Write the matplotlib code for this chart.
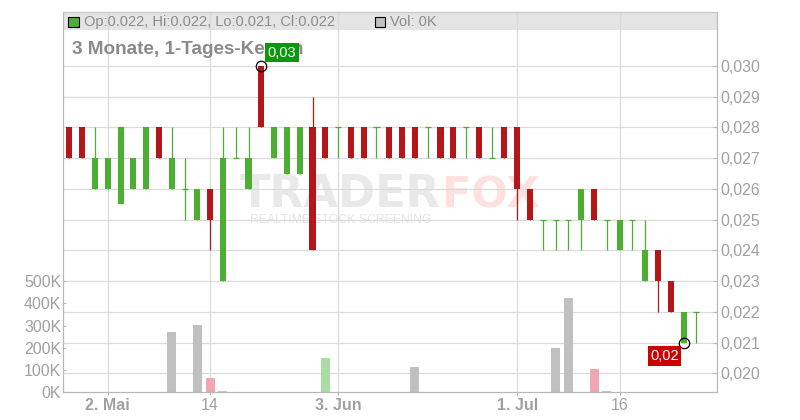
import matplotlib
matplotlib.use('Agg')
import matplotlib.pyplot as plt
from matplotlib.patches import Rectangle
from matplotlib.transforms import blended_transform_factory
import numpy as np

plt.rcParams['font.family'] = ['Liberation Sans', 'DejaVu Sans']

# ---------------- data ----------------
opens = [0.028, 0.028, 0.026, 0.026, 0.0255, 0.026, 0.026, 0.028, 0.026, 0.026,
         0.025, 0.026, 0.023, 0.027, 0.026, 0.030, 0.027, 0.0265, 0.0265, 0.028,
         0.028, 0.028, 0.028, 0.028, 0.028, 0.028, 0.028, 0.028, 0.028, 0.028,
         0.028, 0.028, 0.028, 0.027, 0.028, 0.028, 0.026, 0.025, 0.025, 0.025,
         0.025, 0.026, 0.025, 0.024, 0.025, 0.023, 0.024, 0.023, 0.021, 0.022]
highs = [0.028, 0.028, 0.028, 0.027, 0.028, 0.027, 0.028, 0.028, 0.028, 0.027,
         0.026, 0.026, 0.028, 0.028, 0.028, 0.030, 0.028, 0.028, 0.028, 0.029,
         0.028, 0.028, 0.028, 0.028, 0.028, 0.028, 0.028, 0.028, 0.028, 0.028,
         0.028, 0.028, 0.028, 0.028, 0.028, 0.028, 0.026, 0.025, 0.025, 0.025,
         0.026, 0.026, 0.025, 0.025, 0.025, 0.025, 0.024, 0.023, 0.022, 0.022]
lows = [0.027, 0.027, 0.026, 0.026, 0.0255, 0.026, 0.026, 0.027, 0.026, 0.025,
        0.025, 0.024, 0.023, 0.027, 0.026, 0.028, 0.027, 0.0265, 0.0265, 0.024,
        0.027, 0.027, 0.027, 0.027, 0.027, 0.027, 0.027, 0.027, 0.027, 0.027,
        0.027, 0.027, 0.027, 0.027, 0.027, 0.025, 0.025, 0.024, 0.024, 0.024,
        0.024, 0.025, 0.024, 0.024, 0.024, 0.023, 0.022, 0.022, 0.021, 0.021]
closes = [0.027, 0.027, 0.027, 0.027, 0.028, 0.027, 0.028, 0.027, 0.027, 0.026,
          0.026, 0.025, 0.027, 0.027, 0.027, 0.028, 0.028, 0.028, 0.028, 0.024,
          0.027, 0.028, 0.027, 0.027, 0.028, 0.027, 0.027, 0.027, 0.028, 0.027,
          0.027, 0.028, 0.027, 0.027, 0.027, 0.026, 0.025, 0.025, 0.025, 0.025,
          0.026, 0.025, 0.025, 0.025, 0.025, 0.024, 0.023, 0.022, 0.022, 0.022]
volumes = [0, 0, 0, 0, 0, 0, 0, 0, 271000, 0,
           302000, 64000, 6000, 0, 0, 0, 0, 0, 0, 0,
           154000, 0, 0, 0, 0, 0, 0, 114000, 0, 0,
           0, 0, 0, 0, 0, 0, 0, 0, 199000, 424000,
           0, 105000, 6000, 0, 0, 0, 0, 0, 0, 0]
# volume direction: 'u' up, 'd' down, 'n' neutral
vol_dir = ['n'] * 8 + ['n', 'n', 'n', 'd', 'u'] + ['n'] * 7 + ['u'] + ['n'] * 20 + ['d', 'n'] + ['n'] * 7

price_ticks = [0.020, 0.021, 0.022, 0.023, 0.024, 0.025, 0.026, 0.027, 0.028, 0.029, 0.030]
price_tick_labels = ['0,020', '0,021', '0,022', '0,023', '0,024', '0,025',
                     '0,026', '0,027', '0,028', '0,029', '0,030']
vol_ticks = [0, 100000, 200000, 300000, 400000, 500000]
vol_tick_labels = ['0K', '100K', '200K', '300K', '400K', '500K']
date_tick_pos = [3, 11, 21, 35, 43]
date_tick_labels = ['2. Mai', '14', '3. Jun', '1. Jul', '16']
date_tick_bold = [True, False, True, True, False]
title = '3 Monate, 1-Tages-Kerzen'

# ---------------- styling ----------------
UP = '#4caf33'
DN = '#b3171a'
VCOL = {'u': '#a9dca2', 'd': '#f0a7b0', 'n': '#c0c0c0'}
GRID = '#dadada'
SPINE = '#b8b8b8'
LABEL = '#a0a0a0'

W, H = 800, 420
fig = plt.figure(figsize=(8, 4.2), dpi=100)
L, R, T, B = 63.3, 716.7, 12.0, 392.3
axv = fig.add_axes([L / W, 1 - B / H, (R - L) / W, (B - T) / H])
ax = axv.twinx()

n = len(opens)
x = np.arange(n)
axv.set_xlim(-0.47, n - 1 + 1.58)
ax.set_ylim(0.019382, 0.031757)
axv.set_ylim(0, 1.708e6)

# header band
band_h = 18.0 / (B - T)
axv.add_patch(Rectangle((0, 1 - band_h), 1, band_h, transform=axv.transAxes,
                        fc='#e4e4e4', ec='none', zorder=0.3))

# grid lines
for p in date_tick_pos:
    axv.axvline(p, color=GRID, lw=0.9, zorder=0.6)
btr = blended_transform_factory(axv.transAxes, ax.transData)
for p in price_ticks:
    axv.plot([0, 1], [p, p], transform=btr, color=GRID, lw=0.9, zorder=0.6)

# watermark
axv.text(240 / W, 1 - 207 / H, 'TRADER', transform=fig.transFigure, fontsize=32,
         family='DejaVu Sans', fontweight='bold', color='#e9e9e9',
         ha='left', va='baseline', zorder=0.4)
axv.text(442 / W, 1 - 207 / H, 'FOX', transform=fig.transFigure, fontsize=31,
         family='DejaVu Sans', fontweight='bold', color='#fde1e1',
         ha='left', va='baseline', zorder=0.4)
axv.text(250 / W, 1 - 223 / H, 'REALTIME STOCK SCREENING', transform=fig.transFigure,
         fontsize=8.8, color='#e4e4e4', ha='left', va='baseline', zorder=0.4)

# volume bars
axv.bar(x, volumes, width=0.7, color=[VCOL[d] for d in vol_dir], zorder=2)

# candles
bw = 0.47
for i in range(n):
    o, h, l, c = opens[i], highs[i], lows[i], closes[i]
    col = UP if c >= o else DN
    ax.vlines(i, l, h, color=col, lw=0.9, zorder=3)
    if o == c:
        ax.hlines(o, i - bw / 2, i + bw / 2, color=col, lw=0.9, zorder=3)
    else:
        ax.add_patch(Rectangle((i - bw / 2, min(o, c)), bw, abs(c - o),
                               fc=col, ec='none', zorder=3))

# max / min flags
imax = int(np.argmax(highs))
imin = int(np.argmin(lows))
ax.plot([imax], [highs[imax]], 'o', mfc='none', mec='black', ms=7.5, mew=0.9, zorder=4)
ax.plot([imin], [lows[imin]], 'o', mfc='none', mec='black', ms=7.5, mew=0.9, zorder=4)
ax.annotate(f'{highs[imax]:.2f}'.replace('.', ','), xy=(imax, highs[imax]),
            xytext=(14.8, 9.7), textcoords='offset points', ha='center', va='center',
            color='white', fontsize=10.5, zorder=5,
            bbox=dict(boxstyle='square,pad=0.18', fc='#0a990a', ec='none'))
ax.annotate(f'{lows[imin]:.2f}'.replace('.', ','), xy=(imin, lows[imin]),
            xytext=(-13.8, -9.7), textcoords='offset points', ha='center', va='center',
            color='white', fontsize=10.5, zorder=5,
            bbox=dict(boxstyle='square,pad=0.18', fc='#cc0000', ec='none'))

# axes / ticks
axv.set_yticks(vol_ticks, vol_tick_labels)
ax.set_yticks(price_ticks, price_tick_labels)
axv.set_xticks(date_tick_pos, date_tick_labels)
for lbl, b in zip(axv.get_xticklabels(), date_tick_bold):
    lbl.set_fontweight('bold' if b else 'normal')

axv.tick_params(axis='y', direction='in', length=2.5, width=0.8, color=SPINE,
                labelcolor=LABEL, labelsize=11.5, pad=1.5)
ax.tick_params(axis='y', direction='in', length=3, width=0.8, color=SPINE,
               labelcolor=LABEL, labelsize=11.5, pad=2.4)
axv.tick_params(axis='x', direction='out', length=2.5, width=0.8, color=SPINE,
                labelcolor=LABEL, labelsize=11.5, pad=1.5)

for s in ax.spines.values():
    s.set_visible(False)
for k, s in axv.spines.items():
    s.set_color('#c8c8c8' if k == 'top' else SPINE)
    s.set_linewidth(0.9)

# header texts
last = n - 1
axv.add_patch(Rectangle((68 / W, 1 - 27 / H), 11 / W, 10 / H, transform=fig.transFigure,
                        fc=UP, ec='black', lw=0.8, zorder=5, clip_on=False))
axv.text(84 / W, 1 - 22 / H,
         f'Op:{opens[last]:.3f}, Hi:{highs[last]:.3f}, Lo:{lows[last]:.3f}, Cl:{closes[last]:.3f}',
         transform=fig.transFigure, fontsize=10.5, color='#8c8c8c', va='center', zorder=5)
axv.add_patch(Rectangle((374.5 / W, 1 - 27 / H), 10 / W, 10 / H, transform=fig.transFigure,
                        fc='#c0c0c0', ec='black', lw=0.8, zorder=5, clip_on=False))
axv.text(390 / W, 1 - 22 / H, f'Vol: {volumes[last] // 1000}K',
         transform=fig.transFigure, fontsize=10.5, color='#8c8c8c', va='center', zorder=5)

# title
axv.text(72 / W, 1 - 54 / H, title, transform=fig.transFigure, fontsize=13.6,
         fontweight='bold', color='#8a8a8a', ha='left', va='baseline', zorder=5)

fig.savefig('out.png', dpi=100, facecolor='white')
